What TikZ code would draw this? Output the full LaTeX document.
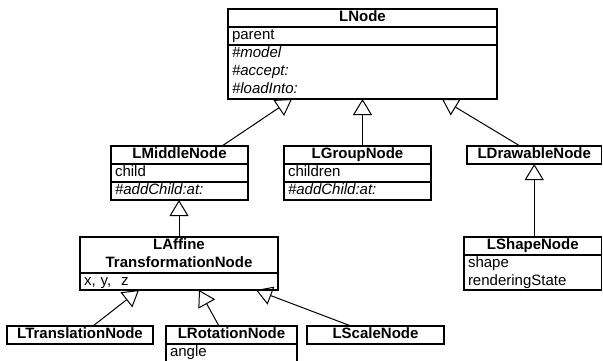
\documentclass[tikz,border=0pt]{standalone}
\usepackage{fontspec}
\setmainfont{Liberation Sans}
\usetikzlibrary{arrows.meta,calc}
\begin{document}
\begin{tikzpicture}[x=1pt,y=-1pt,
  box/.style={draw, line width=1.2pt, outer sep=0pt, inner xsep=4pt, inner ysep=0pt,
    fill=white, anchor=north west, text height=11pt, text depth=4pt, minimum height=18pt},
  hdr/.style={box, font=\fontsize{15}{18}\selectfont\bfseries, align=center},
  row/.style={box, font=\fontsize{15}{18}\selectfont, align=left},
  mth/.style={box, font=\fontsize{15}{18}\selectfont\itshape, align=left},
  two/.style={text depth=22pt, minimum height=36pt},
  three/.style={text depth=40pt, minimum height=54pt},
  gen/.style={line width=1pt, -{Triangle[open, length=16pt, width=19pt, line width=1pt]}}
]
\useasboundingbox (0,0) rectangle (603,360);

% LNode
\node[hdr, text width=261pt] (lnode) at (228,9) {LNode};
\node[row, text width=261pt] (lnodea) at (lnode.south west) {parent};
\node[mth, three, text width=261pt] (lnodem) at (lnodea.south west) {\#model\\\#accept:\\\#loadInto:};

% LMiddleNode
\node[hdr, text width=129pt] (lmid) at (111,146) {LMiddleNode};
\node[row, text width=129pt] (lmida) at (lmid.south west) {child};
\node[mth, text width=129pt] (lmidm) at (lmida.south west) {\#addChild:at:};

% LGroupNode
\node[hdr, text width=139pt] (lgroup) at (284,146) {LGroupNode};
\node[row, text width=139pt] (lgroupa) at (lgroup.south west) {children};
\node[mth, text width=139pt] (lgroupm) at (lgroupa.south west) {\#addChild:at:};

% LDrawableNode
\node[hdr, text width=126.5pt] (ldraw) at (467,146) {LDrawableNode};

% LShapeNode
\node[hdr, text width=129.5pt] (lshape) at (464,237) {LShapeNode};
\node[row, two, text width=129.5pt, minimum height=35pt] (lshapea) at (lshape.south west) {shape\\renderingState};

% LAffineTransformationNode
\node[hdr, two, text width=190pt] (laff) at (80,237) {LAffine\\TransformationNode};
\node[row, text width=190pt, minimum height=17pt] (laffa) at (laff.south west) {x, y,\ \ z};

% bottom row
\node[hdr, text width=138pt] (ltrans) at (7,326) {LTranslationNode};
\node[hdr, text width=123pt] (lrot) at (166,326) {LRotationNode};
\node[row, text width=123pt] (lrota) at (lrot.south west) {angle};
\node[hdr, text width=129pt] (lscale) at (307,326) {LScaleNode};

% generalizations
\draw[gen] ([xshift=111pt]lmid.north west) -- ([xshift=64pt]lnodem.south west);
\draw[gen] (lgroup.north -| lnodem.south) -- (lnodem.south);
\draw[gen] ([xshift=53pt]ldraw.north west) -- ([xshift=214pt]lnodem.south west);
\draw[gen] (laff.north) -- (laff.north |- lmidm.south);
\draw[gen] (ldraw.south |- lshape.north) -- (ldraw.south);
\draw[gen] ([xshift=86pt]ltrans.north west) -- ([xshift=59pt]laffa.south west);
\draw[gen] ([xshift=53pt]lrot.north west) -- ([xshift=119pt]laffa.south west);
\draw[gen] ([xshift=44pt]lscale.north west) -- ([xshift=176pt]laffa.south west);
\end{tikzpicture}
\end{document}
